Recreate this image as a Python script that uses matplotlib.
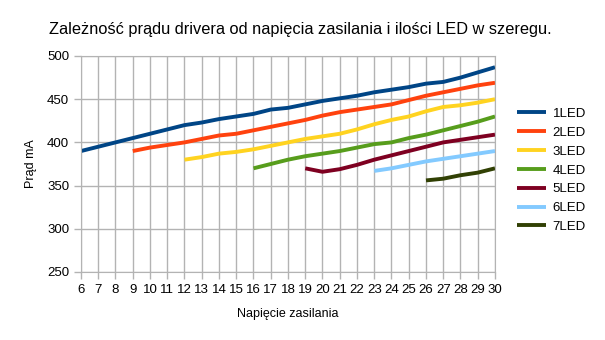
import numpy as np
from matplotlib import pyplot as plt

plt.rcParams['font.family'] = ['Liberation Sans', 'DejaVu Sans']

# napięcie zasilania [V] i prąd [mA] dla kolejnych liczby LED w szeregu
v1 = list(range(6, 31))
i1 = [390, 395, 400, 405, 410, 415, 420, 423, 427, 430, 433, 438, 440,
      444, 448, 451, 454, 458, 461, 464, 468, 470, 475, 481, 487]

v2 = list(range(9, 31))
i2 = [390, 394, 397, 400, 404, 408, 410, 414, 418, 422, 426, 431, 435,
      438, 441, 444, 449, 454, 458, 462, 466, 469]

v3 = list(range(12, 31))
i3 = [380, 383, 387, 389, 392, 396, 400, 404, 407, 410, 415, 421, 426,
      430, 436, 441, 443, 446, 450]

v4 = list(range(16, 31))
i4 = [370, 375, 380, 384, 387, 390, 394, 398, 400, 405, 409, 414, 419,
      424, 430]

v5 = list(range(19, 31))
i5 = [370, 366, 369, 374, 380, 385, 390, 395, 400, 403, 406, 409]

v6 = list(range(23, 31))
i6 = [367, 370, 374, 378, 381, 384, 387, 390]

v7 = list(range(26, 31))
i7 = [356, 358, 362, 365, 370]

series = [(v1, i1, '1LED'), (v2, i2, '2LED'), (v3, i3, '3LED'),
          (v4, i4, '4LED'), (v5, i5, '5LED'), (v6, i6, '6LED'),
          (v7, i7, '7LED')]
colors = ['#004586', '#ff420e', '#ffd320', '#579d1c', '#7e0021',
          '#83caff', '#314004']

fig = plt.figure(figsize=(6.05, 3.4), dpi=100)
ax = fig.add_axes([81/605, 1 - 272/340, 414/605, 216/340])

for (v, i, name), c in zip(series, colors):
    ax.plot(v, i, color=c, lw=2.8, label=name, solid_capstyle='butt')

ax.set_xlim(6, 30)
ax.set_ylim(250, 500)
ax.set_xticks(range(6, 31))
ax.set_yticks(range(250, 501, 50))
ax.grid(True, color='#b3b3b3', lw=1)
ax.set_axisbelow(True)
for s in ax.spines.values():
    s.set_color('#b3b3b3')
ax.tick_params(colors='#b3b3b3', labelcolor='black', labelsize=9.5,
               length=5, width=1)

ax.set_xlabel('Napięcie zasilania', fontsize=9, labelpad=9)
ax.set_ylabel('Prąd mA', fontsize=9, labelpad=7)
fig.suptitle('Zależność prądu drivera od napięcia zasilania i ilości LED w szeregu.',
             fontsize=11.8, x=300/605, y=1 - 22/340)

ax.legend(loc='center left', bbox_to_anchor=(1.04, 0.47), frameon=False,
          fontsize=9.5, handlelength=2.2, handletextpad=0.5,
          labelspacing=0.5, borderaxespad=0)

fig.savefig('out.png', dpi=100)
